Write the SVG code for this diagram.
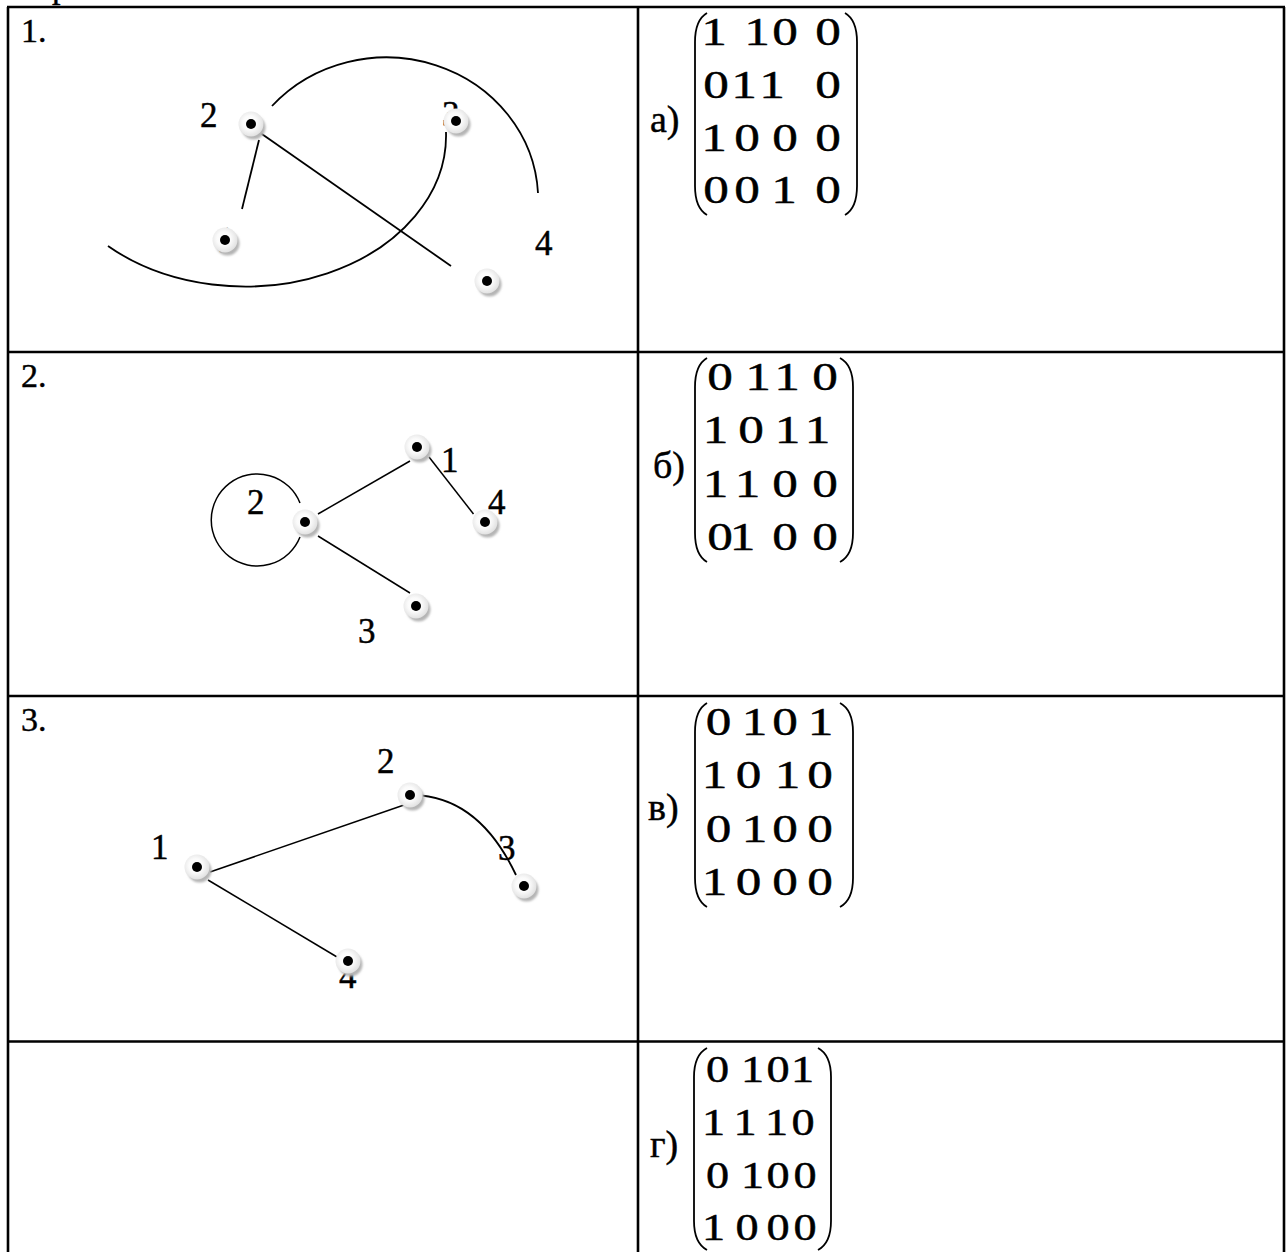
<svg xmlns="http://www.w3.org/2000/svg" width="1288" height="1252" viewBox="0 0 1288 1252">
<style>
.t{font-family:"Liberation Serif","Times New Roman",serif;fill:#000;stroke:#000;stroke-width:0.45}
.rl{font-size:34px}
.lb{font-size:35px}
.ml{font-size:38px}
.md{font-size:41px;text-anchor:middle}
.mg{font-size:37px;text-anchor:middle}
.grid{stroke:#000;stroke-width:2.6;fill:none}
.e{stroke:#000;stroke-width:1.8;fill:none}
.e2{stroke:#000;stroke-width:1.5;fill:none}
.par{stroke:#000;stroke-width:1.8;fill:none}
</style>
<defs>
<radialGradient id="disc" cx="0.45" cy="0.45" r="0.55">
<stop offset="0" stop-color="#ffffff"/>
<stop offset="0.5" stop-color="#fbfbfb"/>
<stop offset="1" stop-color="#e2e2e2"/>
</radialGradient>
<filter id="blur" x="-50%" y="-50%" width="200%" height="200%"><feGaussianBlur stdDeviation="1.3"/></filter>
<g id="nodeShape">
<circle cx="2.5" cy="3.5" r="12" fill="#b5b5b5" filter="url(#blur)"/>
<circle r="12.5" fill="url(#disc)"/>
<circle r="5" fill="#000"/>
</g>
</defs>
<rect width="1288" height="1252" fill="#fff"/>
<g id="table">
<text class="t rl" x="52" y="-2">р</text>
<path class="grid" d="M7,7 H1285 M8,7 V1252 M1284,7 V1252 M638,7 V1252 M7,352 H1285 M7,696 H1285 M7,1041.5 H1285"/>
<text class="t rl" x="21" y="42">1.</text>
<text class="t rl" x="21" y="387">2.</text>
<text class="t rl" x="21" y="731">3.</text>
</g>
<g id="connectors">
<line class="e" x1="259" y1="132" x2="451" y2="266"/>
<line class="e" x1="259" y1="140" x2="242" y2="209"/>
<path class="e" d="M272,106 A152,143 0 0,1 538,193"/>
<path class="e" d="M108,246 A201,151 0 0,0 446,132"/>
<path class="e2" d="M300,503 A46,46 0 1,0 300,537"/>
<line class="e2" x1="318" y1="514" x2="410" y2="461"/>
<line class="e2" x1="429" y1="457" x2="473.5" y2="514"/>
<line class="e2" x1="318" y1="536" x2="410" y2="593"/>
<line class="e2" x1="210" y1="872" x2="404" y2="805"/>
<line class="e2" x1="208" y1="880" x2="337" y2="957"/>
<path class="e" d="M414,795 Q479,797 516,875"/>
</g>
<g id="g1-labels">
<text class="t lb" x="200" y="127">2</text>
<text class="t lb" x="442" y="126">3</text>
<text class="t lb" x="217" y="252">1</text>
<text class="t lb" x="535" y="255">4</text>
</g>
<g id="g2-labels">
<text class="t lb" x="247" y="514">2</text>
<text class="t lb" x="441" y="472">1</text>
<text class="t lb" x="488" y="514">4</text>
<text class="t lb" x="358" y="643">3</text>
</g>
<g id="g3-labels">
<text class="t lb" x="377" y="773">2</text>
<text class="t lb" x="151" y="859">1</text>
<text class="t lb" x="498" y="860">3</text>
<text class="t lb" x="339" y="988">4</text>
</g>
<g id="g1-n2" transform="translate(251,124)"><use href="#nodeShape"/></g>
<g id="g1-n3" transform="translate(456,121)"><use href="#nodeShape"/></g>
<g id="g1-n1" transform="translate(225,240)"><use href="#nodeShape"/></g>
<g id="g1-n4" transform="translate(487,281)"><use href="#nodeShape"/></g>
<g id="g2-n2" transform="translate(305,522)"><use href="#nodeShape"/></g>
<g id="g2-n1" transform="translate(417,447)"><use href="#nodeShape"/></g>
<g id="g2-n4" transform="translate(485,522)"><use href="#nodeShape"/></g>
<g id="g2-n3" transform="translate(416,606)"><use href="#nodeShape"/></g>
<g id="g3-n2" transform="translate(410,795)"><use href="#nodeShape"/></g>
<g id="g3-n1" transform="translate(197,867)"><use href="#nodeShape"/></g>
<g id="g3-n3" transform="translate(524,886)"><use href="#nodeShape"/></g>
<g id="g3-n4" transform="translate(348,961)"><use href="#nodeShape"/></g>
<g id="matrix-a">
<text class="t ml" x="650" y="132">а)</text>
<path class="par" d="M707,13 Q695,20 695,42 L695,186 Q695,208 707,215 M845,13 Q857,20 857,42 L857,186 Q857,208 845,215"/>
<g transform="scale(1.25,1)">
<text class="t md" x="571.2 605.6 628 662.4" y="45">1100</text>
<text class="t md" x="572.8 595.2 617.6 662.4" y="98">0110</text>
<text class="t md" x="571.2 597.6 628 662.4" y="151">1000</text>
<text class="t md" x="572.8 597.6 627.2 662.4" y="203">0010</text>
</g>
</g>
<g id="matrix-b">
<text class="t ml" x="653" y="478">б)</text>
<path class="par" d="M707,358 Q695,365 695,387 L695,533 Q695,555 707,562 M840,358 Q853,365 853,387 L853,533 Q853,555 840,562"/>
<g transform="scale(1.25,1)">
<text class="t md" x="576 606.4 629.6 660" y="390">0110</text>
<text class="t md" x="572.4 600.8 630 654" y="443">1011</text>
<text class="t md" x="572.4 598 628 660" y="497">1100</text>
<text class="t md" x="576 594 628 660" y="550">0100</text>
</g>
</g>
<g id="matrix-v">
<text class="t ml" x="648" y="820">в)</text>
<path class="par" d="M707,703 Q695,710 695,732 L695,878 Q695,900 707,907 M840,703 Q853,710 853,732 L853,878 Q853,900 840,907"/>
<g transform="scale(1.25,1)">
<text class="t md" x="574.8 603.6 628 656.4" y="735">0101</text>
<text class="t md" x="571.6 598.8 630 656" y="788">1010</text>
<text class="t md" x="574.8 603.6 628 656" y="842">0100</text>
<text class="t md" x="571.6 598.8 628 656" y="895">1000</text>
</g>
</g>
<g id="matrix-g">
<text class="t ml" x="650" y="1157">г)</text>
<path class="par" d="M707,1048 Q694,1055 694,1077 L694,1221 Q694,1243 707,1250 M818,1048 Q831,1055 831,1077 L831,1221 Q831,1243 818,1250"/>
<g transform="scale(1.25,1)">
<text class="t mg" x="574 602 622.4 642" y="1082">0101</text>
<text class="t mg" x="570.8 596 621.2 642.4" y="1135">1110</text>
<text class="t mg" x="574 602 622.4 644" y="1188">0100</text>
<text class="t mg" x="570.8 597.6 622.4 644" y="1240">1000</text>
</g>
</g>
</svg>
